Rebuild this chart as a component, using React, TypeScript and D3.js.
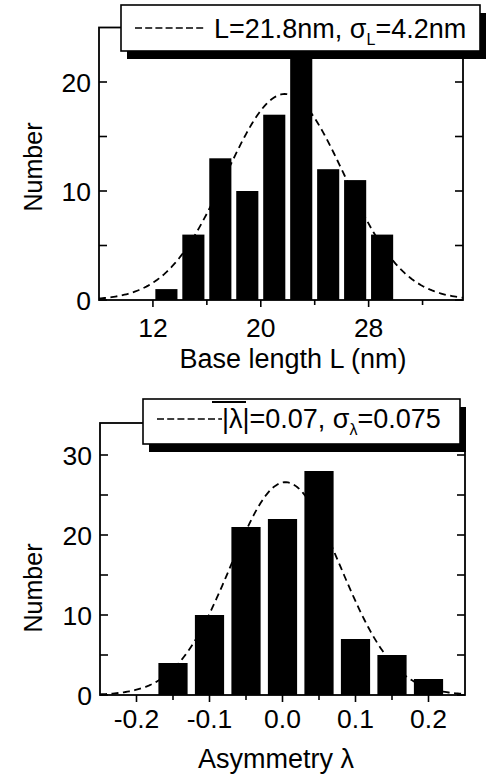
import React from "react";
import * as d3 from "d3";

// ---- Data: top panel (base length histogram) ----
const lengthBins = [13, 15, 17, 19, 21, 23, 25, 27, 29];
const lengthCounts = [1, 6, 13, 10, 17, 24, 12, 11, 6];
const lengthFit = { mean: 21.8, sigma: 4.4, amp: 18.9 };
const lengthXTicks = [12, 20, 28];
const lengthXMinor = [16, 24, 32];
const lengthYTicks = [0, 5, 10, 15, 20];
const lengthYLabels = [0, 10, 20];

// ---- Data: bottom panel (asymmetry histogram) ----
const asymBins = [-0.15, -0.1, -0.05, 0.0, 0.05, 0.1, 0.15, 0.2];
const asymCounts = [4, 10, 21, 22, 28, 7, 5, 2];
const asymFit = { mean: 0.004, sigma: 0.075, amp: 26.6 };
const asymXTicks = [-0.2, -0.1, 0.0, 0.1, 0.2];
const asymXMinor = [-0.15, -0.05, 0.05, 0.15];
const asymYTicks = [0, 5, 10, 15, 20, 25, 30];
const asymYLabels = [0, 10, 20, 30];

const FONT = "'Liberation Sans', Arial, Helvetica, sans-serif";
const TICK_FS = 26.5;
const TITLE_FS = 27;

type PanelProps = {
  x0: number; x1: number; y0: number; y1: number;
  xDomain: [number, number]; yDomain: [number, number];
  bins: number[]; counts: number[]; binWidth: number; barFrac: number;
  fit: { mean: number; sigma: number; amp: number };
  xTicks: number[]; xMinor: number[]; yTicks: number[]; yLabels: number[];
  xFmt: (v: number) => string;
  xLabelY: number;
  title: string; titleX: number; titleY: number;
  yTitleY: number;
  legend: React.ReactNode;
};

function Panel(p: PanelProps) {
  const x = d3.scaleLinear().domain(p.xDomain).range([p.x0, p.x1]);
  const y = d3.scaleLinear().domain(p.yDomain).range([p.y0, p.y1]);
  const bw = (x(p.binWidth) - x(0)) * p.barFrac;
  const pts = d3.range(p.xDomain[0], p.xDomain[1] + 1e-9, (p.xDomain[1] - p.xDomain[0]) / 200);
  const line = d3
    .line<number>()
    .x((d) => x(d))
    .y((d) => y(p.fit.amp * Math.exp(-((d - p.fit.mean) ** 2) / (2 * p.fit.sigma ** 2))));
  return (
    <g>
      {p.bins.map((b, i) => (
        <rect
          key={i}
          x={x(b) - bw / 2}
          y={y(Math.min(p.counts[i], p.yDomain[1]))}
          width={bw}
          height={p.y0 - y(Math.min(p.counts[i], p.yDomain[1]))}
          fill="#000"
        />
      ))}
      <path d={line(pts) || ""} fill="none" stroke="#000" strokeWidth={1.8} strokeDasharray="7,4.5" />
      <rect x={p.x0} y={p.y1} width={p.x1 - p.x0} height={p.y0 - p.y1} fill="none" stroke="#000" strokeWidth={1.8} />
      {p.yTicks.map((t) => (
        <g key={"yt" + t}>
          <line x1={p.x0} x2={p.x0 + 8} y1={y(t)} y2={y(t)} stroke="#000" strokeWidth={1.6} />
          <line x1={p.x1} x2={p.x1 - 8} y1={y(t)} y2={y(t)} stroke="#000" strokeWidth={1.6} />
        </g>
      ))}
      {p.yLabels.map((t) => (
        <text key={"yl" + t} x={p.x0 - 8} y={y(t)} dy="0.36em" textAnchor="end" fontSize={TICK_FS} fontFamily={FONT}>
          {t}
        </text>
      ))}
      {p.xTicks.map((t) => (
        <line key={"xt" + t} x1={x(t)} x2={x(t)} y1={p.y0} y2={p.y0 + 7} stroke="#000" strokeWidth={1.6} />
      ))}
      {p.xMinor.map((t) => (
        <line key={"xm" + t} x1={x(t)} x2={x(t)} y1={p.y0} y2={p.y0 + 5} stroke="#000" strokeWidth={1.6} />
      ))}
      {p.xTicks.map((t) => (
        <text key={"xl" + t} x={x(t)} y={p.xLabelY} textAnchor="middle" fontSize={TICK_FS} fontFamily={FONT}>
          {p.xFmt(t)}
        </text>
      ))}
      <text x={p.titleX} y={p.titleY} textAnchor="middle" fontSize={TITLE_FS} fontFamily={FONT}>
        {p.title}
      </text>
      <text
        transform={`translate(42,${p.yTitleY}) rotate(-90)`}
        textAnchor="middle"
        fontSize={25}
        fontFamily={FONT}
      >
        Number
      </text>
      {p.legend}
    </g>
  );
}

function Legend({ bx, by, bw, bh, dx1, dx2, dy, children }: any) {
  return (
    <g>
      <rect x={bx + 6} y={by + 8} width={bw} height={bh} fill="#000" />
      <rect x={bx} y={by} width={bw} height={bh} fill="#fff" stroke="#000" strokeWidth={1.6} />
      <line x1={dx1} x2={dx2} y1={dy} y2={dy} stroke="#000" strokeWidth={1.6} strokeDasharray="7,3.2" />
      {children}
    </g>
  );
}

export default function App() {
  return (
    <svg width={487} height={776} style={{ position: "absolute", left: 0, top: 0, background: "#fff" }}>
      <rect x={0} y={0} width={487} height={776} fill="#fff" />
      <Panel
        x0={99} x1={463} y0={300} y1={27.5}
        xDomain={[8, 35]} yDomain={[0, 25]}
        bins={lengthBins} counts={lengthCounts} binWidth={2} barFrac={0.82}
        fit={lengthFit}
        xTicks={lengthXTicks} xMinor={lengthXMinor} yTicks={lengthYTicks} yLabels={lengthYLabels}
        xFmt={(v) => String(v)}
        xLabelY={337}
        title="Base length L (nm)" titleX={293} titleY={368}
        yTitleY={167}
        legend={
          <Legend bx={121} by={5} bw={359} bh={46} dx1={135} dx2={206} dy={28}>
            <text x={214} y={38} fontSize={TITLE_FS} fontFamily={FONT}>
              L=21.8nm, σ<tspan fontSize={16} dy={7}>L</tspan>
              <tspan dy={-7}>=4.2nm</tspan>
            </text>
          </Legend>
        }
      />
      <Panel
        x0={100} x1={465} y0={695} y1={423}
        xDomain={[-0.25, 0.25]} yDomain={[0, 34]}
        bins={asymBins} counts={asymCounts} binWidth={0.05} barFrac={0.8}
        fit={asymFit}
        xTicks={asymXTicks} xMinor={asymXMinor} yTicks={asymYTicks} yLabels={asymYLabels}
        xFmt={(v) => d3.format(".1f")(v).replace("−", "-")}
        xLabelY={728}
        title="Asymmetry λ" titleX={276} titleY={768}
        yTitleY={588}
        legend={
          <Legend bx={143} by={399} bw={317} bh={45} dx1={157} dx2={222} dy={419}>
            <line x1={212} x2={246} y1={402} y2={402} stroke="#000" strokeWidth={2} />
            <text x={222} y={428} fontSize={TITLE_FS} fontFamily={FONT}>
              |λ|=0.07, σ<tspan fontSize={16} dy={7}>λ</tspan>
              <tspan dy={-7}>=0.075</tspan>
            </text>
          </Legend>
        }
      />
    </svg>
  );
}
